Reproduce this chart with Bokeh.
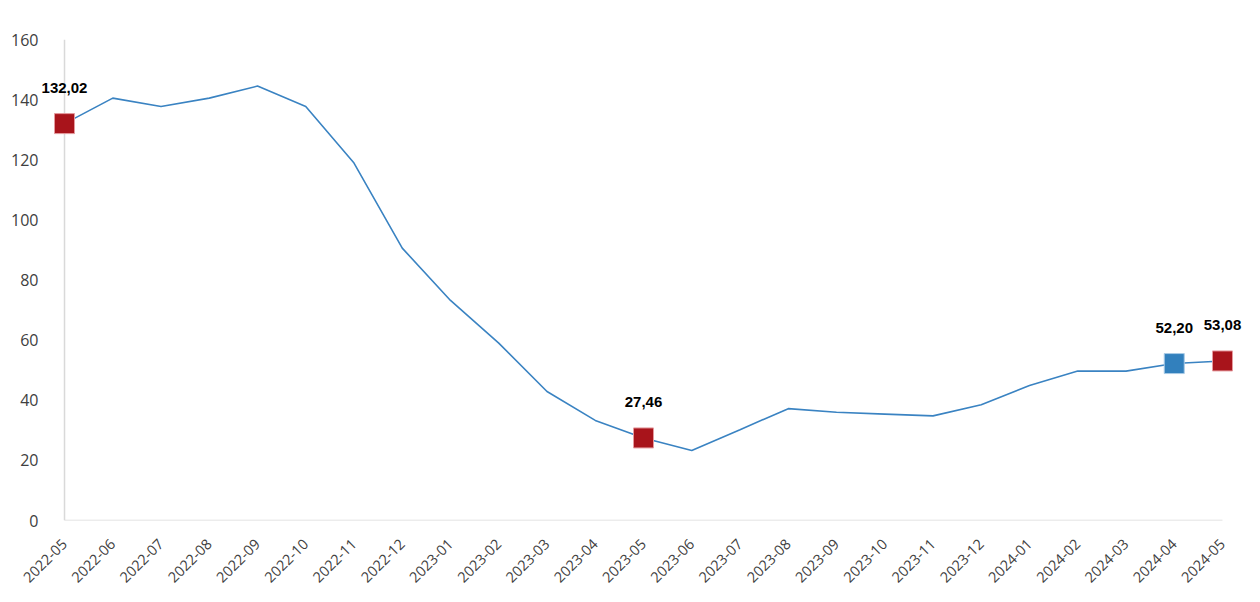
import math
from bokeh.plotting import figure
from bokeh.models import Range1d, FixedTicker, Span, ColumnDataSource, LabelSet
from bokeh.core.properties import value
from bokeh.embed import file_html
from bokeh.resources import INLINE

months = ["2022-05", "2022-06", "2022-07", "2022-08", "2022-09", "2022-10",
          "2022-11", "2022-12", "2023-01", "2023-02", "2023-03", "2023-04",
          "2023-05", "2023-06", "2023-07", "2023-08", "2023-09", "2023-10",
          "2023-11", "2023-12", "2024-01", "2024-02", "2024-03", "2024-04",
          "2024-05"]
values = [132.02, 140.5, 137.7, 140.5, 144.5, 137.7, 118.9, 90.6, 73.2, 59.0,
          42.9, 33.3, 27.46, 23.3, 30.2, 37.2, 36.0, 35.4, 34.8, 38.5, 44.9,
          49.7, 49.7, 52.20, 53.08]
highlight_idx = [0, 12, 23, 24]
highlight_colors = ["#A8141B", "#A8141B", "#3280BD", "#A8141B"]
highlight_borders = ["#E59A9E", "#E59A9E", "#A9CBE6", "#E59A9E"]
y_ticks = [0, 20, 40, 60, 80, 100, 120, 140, 160]

xs = list(range(len(months)))

# frame: page x 38..1248 ; data 0 -> 64, 24 -> 1222 (48.25 px / unit)
p = figure(width=1252, height=594, output_backend="svg", toolbar_location=None,
           x_range=Range1d(-0.539, 24.539), y_range=Range1d(0, 160),
           min_border_left=38, min_border_right=4, min_border_top=39,
           min_border_bottom=74)
p.outline_line_color = None
p.xgrid.visible = False
p.ygrid.visible = False
p.background_fill_color = "white"

p.xaxis.ticker = FixedTicker(ticks=xs)
p.xaxis.major_label_overrides = {i: m for i, m in enumerate(months)}
p.xaxis.major_label_orientation = math.pi / 4
p.xaxis.axis_line_color = None
p.xaxis.major_tick_line_color = None
p.xaxis.minor_tick_line_color = None
p.xaxis.major_label_text_font = "Open Sans"
p.xaxis.major_label_text_font_size = "14.5px"
p.xaxis.major_label_text_color = "#404040"
p.xaxis.major_label_standoff = 15

p.yaxis.ticker = FixedTicker(ticks=y_ticks)
p.yaxis.axis_line_color = None
p.yaxis.major_tick_line_color = None
p.yaxis.minor_tick_line_color = None
p.yaxis.major_label_text_font = "Open Sans"
p.yaxis.major_label_text_font_size = "16px"
p.yaxis.major_label_text_color = "#404040"
p.yaxis.major_label_standoff = -6

p.add_layout(Span(location=0, dimension="height", line_color="#D9D9D9",
                  line_width=1.5, level="underlay"))
p.segment(x0=[xs[0]], y0=[0], x1=[xs[-1]], y1=[0], line_color="#D9D9D9",
          line_width=1.5, level="underlay")

p.line(xs, values, line_color="#3A83C2", line_width=1.6)

src = ColumnDataSource(dict(
    x=[xs[i] for i in highlight_idx],
    y=[values[i] for i in highlight_idx],
    c=highlight_colors,
    b=highlight_borders,
    t=[f"{values[i]:.2f}".replace(".", ",") for i in highlight_idx],
))
p.scatter("x", "y", source=src, marker="square", size=20, fill_color="c",
          line_color="b", line_width=1)
labels = LabelSet(x="x", y="y", text="t", source=src, y_offset=36,
                  text_align="center", text_baseline="middle",
                  text_font=value("Liberation Sans"), text_font_style="bold",
                  text_font_size="15px", text_color="#000000")
p.add_layout(labels)

open("out.html", "w").write(file_html(p, INLINE))
